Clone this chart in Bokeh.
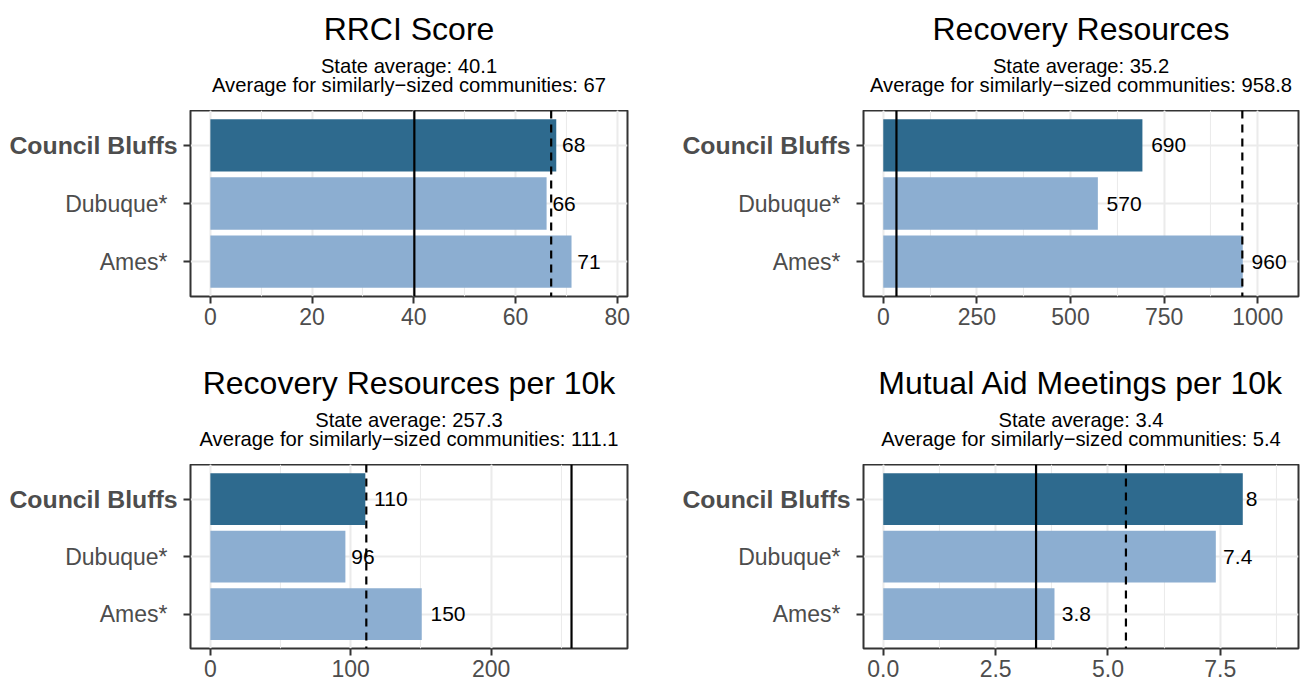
from bokeh.plotting import figure
from bokeh.models import (Range1d, FixedTicker, SingleIntervalTicker, Span,
                          ColumnDataSource, PrintfTickFormatter, BasicTickFormatter)
from bokeh.layouts import column, row
from bokeh.embed import file_html
from bokeh.resources import INLINE
from bokeh.core.properties import value

FONT = "Liberation Sans"

# ---------------- data ----------------
communities = ["Council Bluffs", "Dubuque*", "Ames*"]
highlight = "Council Bluffs"

panel_titles = ["RRCI Score", "Recovery Resources",
                "Recovery Resources per 10k", "Mutual Aid Meetings per 10k"]

rrci_values = [68.0, 66.1, 71.0]
resources_values = [692, 573, 960]
per10k_values = [110.4, 96.2, 150.6]
meetings_values = [8.0, 7.4, 3.81]

rrci_labels = ["68", "66", "71"]
resources_labels = ["690", "570", "960"]
per10k_labels = ["110", "96", "150"]
meetings_labels = ["8", "7.4", "3.8"]

state_avgs = [40.1, 35.2, 257.3, 3.4]
similar_avgs = [67, 958.8, 111.1, 5.4]
state_avg_text = ["40.1", "35.2", "257.3", "3.4"]
similar_avg_text = ["67", "958.8", "111.1", "5.4"]

tick_intervals = [20, 250, 100, 2.5]
tick_formats = [None, None, None, "%.1f"]

panel_values = [rrci_values, resources_values, per10k_values, meetings_values]
panel_labels = [rrci_labels, resources_labels, per10k_labels, meetings_labels]

# ---------------- style ----------------
DARK = "#2E6A8E"
LIGHT = "#8CAED1"
VAL_FS = 21
AX_FS = 23
BOLD_FS = 24.8
TITLE_FS = 32
SUB_FS = 20.2
GRID = "#EBEBEB"
BORDER = "#333333"
AXTXT = "#4D4D4D"


def text_em(s):
    return sum(0.278 if ch == "." else 0.556 for ch in s)


def blank_fig(w, h, xr, yr, bottom=0):
    f = figure(frame_width=w, frame_height=h, min_border_left=0, min_border_right=0,
               min_border_top=0, min_border_bottom=bottom,
               x_range=xr, y_range=yr, x_axis_location=None, y_axis_location=None,
               output_backend="svg", toolbar_location=None, tools="")
    f.grid.visible = False
    f.outline_line_color = None
    f.background_fill_color = "white"
    f.border_fill_color = "white"
    return f


def build(idx, label_w, bl, fw, br, head_h, fh, bb):
    vals = panel_values[idx]
    labs = panel_labels[idx]
    n = len(communities)
    ys = [n - i for i in range(n)]
    upper = 1.1 * max(list(vals) + [state_avgs[idx], similar_avgs[idx]])
    yr = Range1d(0.4, n + 0.6)

    # ---- main plot ----
    p = figure(frame_width=fw, frame_height=fh,
               min_border_left=bl, min_border_right=br,
               min_border_top=0, min_border_bottom=bb,
               x_range=Range1d(-0.05 * upper, 1.05 * upper), y_range=yr,
               output_backend="svg", toolbar_location=None, tools="")
    p.background_fill_color = "white"
    p.border_fill_color = "white"
    p.outline_line_color = BORDER
    p.outline_line_width = 2

    colors = [DARK if c == highlight else LIGHT for c in communities]
    offs = [0.25 * text_em(s) * VAL_FS for s in labs]
    src = ColumnDataSource(dict(y=ys, v=vals, color=colors, label=labs, off=offs))

    p.hbar(y="y", left=0, right="v", height=0.9, fill_color="color",
           line_color=None, source=src)
    p.add_layout(Span(location=state_avgs[idx], dimension="height",
                      line_color="black", line_width=2.2))
    p.add_layout(Span(location=similar_avgs[idx], dimension="height",
                      line_color="black", line_width=2.2, line_dash="8 6"))
    p.text(x="v", y="y", text="label", x_offset="off", source=src,
           text_align="left", text_baseline="middle",
           text_font=value(FONT), text_font_size=f"{VAL_FS}px", text_color="black")

    xa = p.xaxis[0]
    xa.ticker = SingleIntervalTicker(interval=tick_intervals[idx], num_minor_ticks=2)
    if tick_formats[idx]:
        xa.formatter = PrintfTickFormatter(format=tick_formats[idx])
    else:
        xa.formatter = BasicTickFormatter(use_scientific=False)
    ya = p.yaxis[0]
    ya.ticker = FixedTicker(ticks=ys)
    ya.major_label_overrides = {y: "" for y in ys}
    ya.major_label_standoff = 0
    for ax in (xa, ya):
        ax.axis_line_color = None
        ax.major_tick_line_color = BORDER
        ax.major_tick_line_width = 2
        ax.major_tick_out = 7
        ax.major_tick_in = 0
        ax.minor_tick_line_color = None
        ax.major_label_text_font = FONT
        ax.major_label_text_font_size = f"{AX_FS}px"
        ax.major_label_text_color = AXTXT
    xa.major_label_standoff = 4

    p.xgrid.grid_line_color = GRID
    p.xgrid.grid_line_width = 2
    p.xgrid.minor_grid_line_color = GRID
    p.xgrid.minor_grid_line_width = 1.1
    p.ygrid.grid_line_color = GRID
    p.ygrid.grid_line_width = 2

    # ---- category labels (left column) ----
    lab = blank_fig(label_w, fh, Range1d(0, label_w), yr, bottom=bb)
    gap_bold = 13 - bl
    gap_norm = 23 - bl
    for y, c in zip(ys, communities):
        bold = c == highlight
        lab.text(x=[label_w - (gap_bold if bold else gap_norm)], y=[y], text=[c],
                 text_align="right", text_baseline="middle",
                 text_font=value(FONT), text_font_style="bold" if bold else "normal",
                 text_font_size=f"{BOLD_FS if bold else AX_FS}px", text_color=AXTXT)

    # ---- header (title + subtitle) ----
    total_w = label_w + bl + fw + br
    head = blank_fig(total_w, head_h, Range1d(0, total_w), Range1d(head_h, 0))
    cx = label_w + bl + fw / 2
    head.text(x=[cx], y=[head_h - 82], text=[panel_titles[idx]],
              text_align="center", text_baseline="alphabetic",
              text_font=value(FONT), text_font_size=f"{TITLE_FS}px", text_color="black")
    head.text(x=[cx, cx], y=[head_h - 45, head_h - 26],
              text=[f"State average: {state_avg_text[idx]}",
                    f"Average for similarly\u2212sized communities: {similar_avg_text[idx]}"],
              text_align="center", text_baseline="alphabetic",
              text_font=value(FONT), text_font_size=f"{SUB_FS}px", text_color="black")

    return column(head, row(lab, p))


panel1 = build(0, 181, 9, 437, 23, 110, 186, 47)
panel2 = build(1, 203, 10, 435, 2, 110, 186, 47)
panel3 = build(2, 181, 9, 437, 23, 121, 184, 38)
panel4 = build(3, 203, 10, 435, 2, 121, 184, 38)

layout = column(row(panel1, panel2), row(panel3, panel4))

open("out.html", "w").write(file_html(layout, INLINE))
